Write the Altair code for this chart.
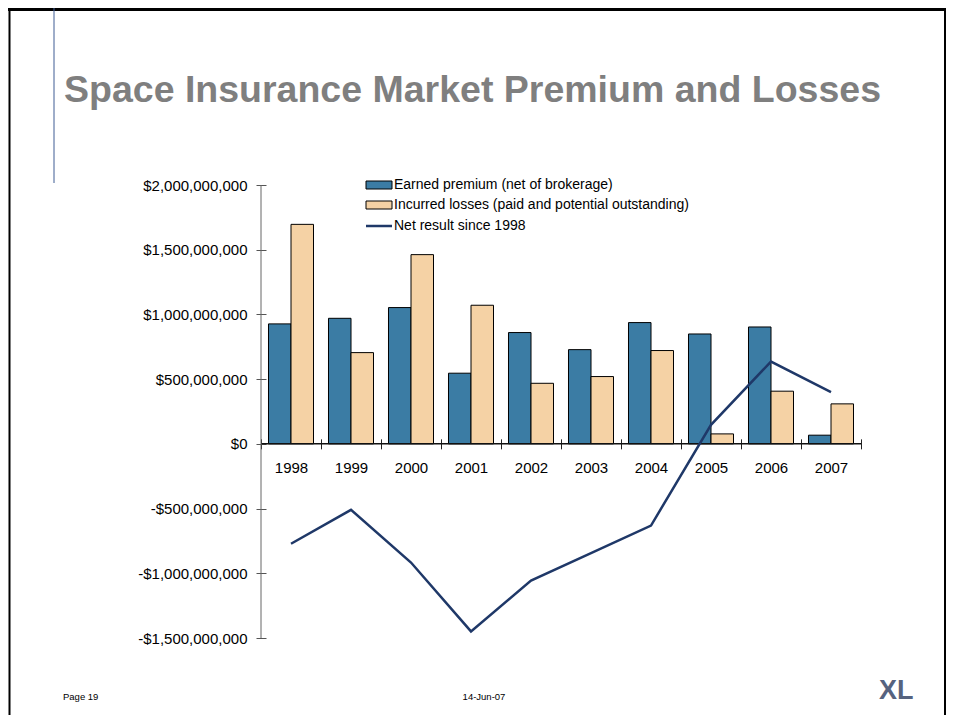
import altair as alt
import pandas as pd

# ---------------- data ----------------
years = ["1998", "1999", "2000", "2001", "2002", "2003", "2004", "2005", "2006", "2007"]
premium = [927e6, 970e6, 1053e6, 546e6, 860e6, 728e6, 937e6, 849e6, 903e6, 67e6]
losses = [1696e6, 705e6, 1462e6, 1071e6, 468e6, 520e6, 721e6, 77e6, 407e6, 309e6]
net_result = [-772e6, -510e6, -917e6, -1449e6, -1056e6, -844e6, -631e6, 147e6, 636e6, 399e6]

bar_series = ["Earned premium (net of brokerage)",
              "Incurred losses (paid and potential outstanding)"]
line_series = ["Net result since 1998"]
y_ticks = [-1.5e9, -1.0e9, -0.5e9, 0, 0.5e9, 1.0e9, 1.5e9, 2.0e9]
y_domain = [-1.5e9, 2.0e9]

title_text = ["Space Insurance Market Premium and Losses"]
footer_left = ["Page 19"]
footer_mid = ["14-Jun-07"]
logo_text = ["XL"]

# ---------------- layout / style ----------------
FONT = "Liberation Sans, Arial, Helvetica, sans-serif"
W, H = 600, 453
PAD = {"left": 253, "top": 177, "right": 85, "bottom": 77}
zero_from_bottom = H * (0 - y_domain[0]) / (y_domain[1] - y_domain[0])

bars_df = pd.DataFrame({
    "year": years * 2,
    "series": [bar_series[0]] * len(years) + [bar_series[1]] * len(years),
    "value": premium + losses,
})
line_df = pd.DataFrame({"year": years, "series": line_series * len(years), "value": net_result})
zero_df = pd.DataFrame({"value": [0.0]})
one = pd.DataFrame({"k": [0]})

x_scale = alt.Scale(domain=years, paddingInner=0, paddingOuter=0)
y_scale = alt.Scale(domain=y_domain, nice=False, zero=False)

x_axis = alt.Axis(orient="bottom", offset=-(zero_from_bottom + 5), domain=False, grid=False,
                  ticks=True, tickSize=10, tickBand="extent", tickColor="#222222", tickWidth=1,
                  labelAngle=0, labelPadding=12, labelFont=FONT, labelFontSize=15,
                  labelColor="black", title=None)
y_axis = alt.Axis(values=y_ticks, domain=False, grid=False, ticks=True, tickSize=10,
                  tickColor="#555555", tickWidth=1, offset=-5, labelPadding=9,
                  labelFont=FONT, labelFontSize=15, labelColor="black", title=None,
                  labelExpr="datum.value < 0 ? '-$' + format(-datum.value, ',') : '$' + format(datum.value, ',')")

bars = alt.Chart(bars_df).mark_bar(stroke="black", strokeWidth=1).encode(
    x=alt.X("year:N", scale=x_scale, axis=x_axis, sort=years),
    xOffset=alt.XOffset("series:N", sort=bar_series,
                        scale=alt.Scale(domain=bar_series, paddingInner=0, paddingOuter=0.3333)),
    y=alt.Y("value:Q", scale=y_scale, axis=y_axis),
    y2=alt.datum(0),
    fill=alt.Fill("series:N", sort=bar_series,
                  scale=alt.Scale(domain=bar_series, range=["#3b7ca4", "#f5d2a5"]),
                  legend=alt.Legend(orient="none", legendX=111, legendY=-7, title=None,
                                    symbolType="M-2.6,-0.8H2.6V0.8H-2.6Z", symbolSize=100,
                                    symbolStrokeColor="black", symbolStrokeWidth=1,
                                    labelFont=FONT, labelFontSize=14, labelColor="black",
                                    labelOffset=8, labelLimit=0, rowPadding=6, padding=0)),
)

line = alt.Chart(line_df).mark_line(strokeWidth=2.5).encode(
    x=alt.X("year:N", scale=x_scale, axis=x_axis, sort=years),
    y=alt.Y("value:Q", scale=y_scale, axis=y_axis),
    stroke=alt.Stroke("series:N",
                      scale=alt.Scale(domain=line_series, range=["#1f3868"]),
                      legend=alt.Legend(orient="none", legendX=111, legendY=34, title=None,
                                        symbolType="M-2.6,0H2.6", symbolSize=100,
                                        symbolStrokeWidth=2.5,
                                        labelFont=FONT, labelFontSize=14, labelColor="black",
                                        labelOffset=8, labelLimit=0, padding=0)),
)

zero_line = alt.Chart(zero_df).mark_rule(color="#111111", strokeWidth=1.5).encode(
    y=alt.Y("value:Q", scale=y_scale, axis=y_axis),
    x=alt.value(0), x2=alt.value(W),
)


def rule(x, x2, y, y2, color, width):
    return alt.Chart(one).mark_rule(color=color, strokeWidth=width).encode(
        x=alt.value(x), x2=alt.value(x2), y=alt.value(y), y2=alt.value(y2))


def label(txt, x, y, size, align="left", baseline="alphabetic", **kw):
    return alt.Chart(pd.DataFrame({"t": txt})).mark_text(
        font=FONT, fontSize=size, align=align, baseline=baseline, **kw
    ).encode(text="t:N", x=alt.value(x), y=alt.value(y))


y_axis_line = rule(0, 0, 0, H, "#666666", 1)
top_border = rule(-253, 685, -175.5, -175.5, "black", 3)
left_border = rule(-251.5, -251.5, -177, 530, "black", 2)
right_border = rule(684, 684, -177, 530, "black", 2)
blue_line = rule(-207, -207, -177, -2, "#3f5c94", 1)

title = label(title_text, -197, -83.5, 37.5, fontWeight="bold", color="#7f7f7f")
foot1 = label(footer_left, -198, 512, 9.5, baseline="middle", color="black")
foot2 = label(footer_mid, 223, 512, 9.5, align="center", baseline="middle", color="black")
logo = label(logo_text, 618, 514, 27, fontWeight="bold", color="#56637f")

chart = alt.layer(
    bars, zero_line, y_axis_line, line,
    top_border, left_border, right_border, blue_line,
    title, foot1, foot2, logo,
).properties(
    width=W, height=H,
    autosize=alt.AutoSizeParams(type="none"),
    padding=PAD,
).configure_view(stroke=None)

chart.save("out.html", embed_options={"renderer": "svg", "actions": False})
